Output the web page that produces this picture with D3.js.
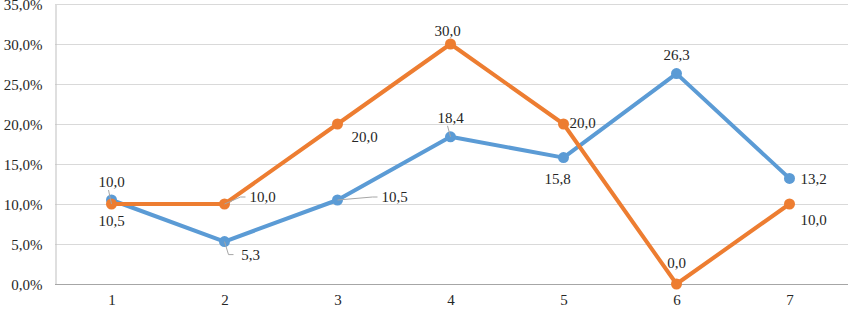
<!DOCTYPE html>
<html>
<head>
<meta charset="utf-8">
<script src="https://cdn.jsdelivr.net/npm/d3@7"></script>
<style>
  body { margin: 0; background: #fff; }
  #chart svg text { font-family: 'Liberation Serif', serif !important; font-size: 15px; fill: #262626; }
</style>
</head>
<body>
<div id="chart"></div>
<script>
// chart data
var categories = ["1", "2", "3", "4", "5", "6", "7"];
var blueValues = [10.5, 5.3, 10.5, 18.4, 15.8, 26.3, 13.2];
var orangeValues = [10.0, 10.0, 20.0, 30.0, 20.0, 0.0, 10.0];
var yTicks = [0, 5, 10, 15, 20, 25, 30, 35];

// label offsets (dx, dy) relative to each point, and whether a leader line is drawn
var blueLabelPos = [[0, 21, 0], [26, 13, 1], [57, -3, 1], [0, -19, 1], [-6, 21, 0], [0, -19, 0], [24, 0, 0]];
var orangeLabelPos = [[0, -22, 1], [38, -7, 1], [27, 13, 0], [-3, -13, 0], [19, -1, 0], [0, -21, 0], [24, 16, 0]];

var w = 848, h = 309;
var margin = {top: 4, right: 2, bottom: 25, left: 55};

var svg = d3.select("#chart").append("svg")
    .attr("width", w)
    .attr("height", h)
    .attr("font-family", "Liberation Serif");

var x = d3.scalePoint()
    .domain(categories)
    .range([margin.left, w - margin.right])
    .padding(0.5);

var y = d3.scaleLinear()
    .domain([0, 35])
    .range([h - margin.bottom, margin.top]);

// gridlines
svg.append("g").selectAll("line")
    .data(yTicks.filter(function(d) { return d > 0; }))
    .enter().append("line")
    .attr("x1", margin.left)
    .attr("x2", w)
    .attr("y1", function(d) { return y(d) + 0.5; })
    .attr("y2", function(d) { return y(d) + 0.5; })
    .style("stroke", "#d9d9d9")
    .style("stroke-width", 1);

// y axis
var yAxis = svg.append("g")
    .attr("transform", "translate(" + (margin.left + 0.5) + ",0.5)")
    .call(d3.axisLeft(y).tickValues(yTicks).tickSize(0).tickPadding(13)
      .tickFormat(function(d) { return d.toFixed(1).replace(".", ",") + "%"; }));
yAxis.attr("font-family", "Liberation Serif").attr("font-size", 15);
yAxis.select(".domain").style("stroke", "#bfbfbf");

// x axis
var xAxis = svg.append("g")
    .attr("transform", "translate(0," + (y(0) + 0.5) + ")")
    .call(d3.axisBottom(x).tickSize(0).tickPadding(10));
xAxis.attr("font-family", "Liberation Serif").attr("font-size", 15);
xAxis.select(".domain").attr("d", "M" + margin.left + ",0H" + w).style("stroke", "#a6a6a6");

var series = [
  {values: blueValues, color: "#5b9bd5", labels: blueLabelPos},
  {values: orangeValues, color: "#ed7d31", labels: orangeLabelPos}
];

var line = d3.line()
    .x(function(d, i) { return x(categories[i]); })
    .y(function(d) { return y(d); });

series.forEach(function(s) {
  svg.append("path")
    .datum(s.values)
    .attr("d", line)
    .style("fill", "none")
    .style("stroke", s.color)
    .style("stroke-width", 4)
    .style("stroke-linejoin", "round");

  svg.append("g").selectAll("circle")
    .data(s.values)
    .enter().append("circle")
    .attr("cx", function(d, i) { return x(categories[i]); })
    .attr("cy", function(d) { return y(d); })
    .attr("r", 5.5)
    .style("fill", s.color);
});

series.forEach(function(s) {
  var g = svg.append("g");
  s.values.forEach(function(v, i) {
    var px = x(categories[i]), py = y(v);
    var p = s.labels[i];
    var lx = px + p[0], ly = py + p[1];
    if (p[2]) {
      var ex = p[0] > 15 ? lx - 22 : lx - 3;
      var ey = p[0] > 15 ? ly : (p[1] > 0 ? ly - 3 : ly + 8);
      g.append("path")
        .attr("d", "M" + px + "," + py + "L" + ex + "," + ey + (p[0] > 15 ? "H" + (lx - 17) : ""))
        .style("fill", "none")
        .style("stroke", "#a6a6a6")
        .style("stroke-width", 1);
    }
    g.append("text")
      .attr("x", lx)
      .attr("y", ly)
      .attr("dy", "0.35em")
      .attr("text-anchor", "middle")
      .text(v.toFixed(1).replace(".", ","));
  });
});
</script>
</body>
</html>
